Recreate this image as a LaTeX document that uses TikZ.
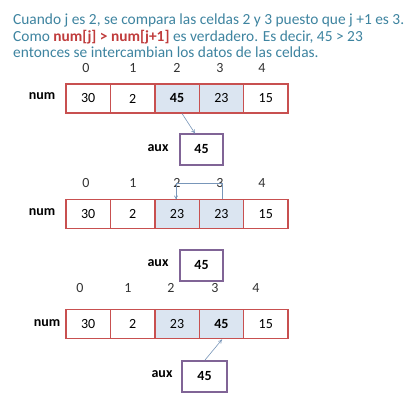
\documentclass[tikz,border=0pt]{standalone}
\usepackage{fontspec}
\setmainfont{Carlito}
\usetikzlibrary{arrows.meta}
\definecolor{titlec}{RGB}{62,132,160}
\definecolor{redc}{RGB}{192,60,60}
\definecolor{cellred}{RGB}{200,80,80}
\definecolor{auxc}{RGB}{128,100,150}
\definecolor{hl}{RGB}{219,229,241}
\definecolor{arrc}{RGB}{120,150,185}
\begin{document}
\begin{tikzpicture}[x=1pt,y=-1pt,
  cell/.style={draw=cellred,line width=1.4pt,minimum width=44.4pt,minimum height=29pt,inner sep=0pt,font=\fontsize{14}{16}\selectfont},
  hcell/.style={cell,fill=hl},
  auxbox/.style={draw=auxc,line width=1.4pt,minimum width=43pt,minimum height=31pt,inner sep=0pt,font=\fontsize{14}{16}\selectfont\bfseries},
  idx/.style={font=\fontsize{14}{16}\selectfont,text=black!80,inner sep=0pt},
  lbl/.style={font=\fontsize{14}{16}\selectfont\bfseries,inner sep=0pt},
  title/.style={anchor=base west,inner sep=0pt,text=titlec,font=\fontsize{15.4}{18}\selectfont},
  conn/.style={draw=arrc,line width=0.6pt,-{To[length=4pt,width=4pt]}}]
\useasboundingbox (0,0) rectangle (418,403);
\fill[white] (0,0) rectangle (418,403);
% title
\node[title] (t1) at (13,25) {Cuando j es 2, se compara las celdas 2 y 3 puesto que j +1 es 3.};
\node[title] (t2) at (13,42) {Como \textcolor{redc}{\bfseries num[j] > num[j+1]} es verdadero. Es decir, 45 > 23};
\node[title] (t3) at (13,58) {entonces se intercambian los datos de las celdas.};
% ---- array 1
\foreach \i/\x in {0/86,1/133,2/177,3/220,4/262} \node[idx] (ia\i) at (\x,68) {\i};
\node[lbl] (numa) at (42,96) {num};
\node[cell] (a0) at (88.2,98.5) {30};
\node[cell] (a1) at (132.6,98.5) {2};
\node[hcell] (a2) at (177,98.5) {\bfseries 45};
\node[hcell] (a3) at (221.4,98.5) {23};
\node[cell] (a4) at (265.8,98.5) {15};
\node[auxbox] (xa) at (201.5,149.5) {45};
\node[lbl] (auxa) at (158,148) {aux};
\coordinate (sa) at (182,113.5);
\coordinate (ea) at (195,133.5);
\draw[conn] (sa) -- (ea);
% ---- array 2
\foreach \i/\x in {0/86,1/133,2/177,3/220,4/262} \node[idx] (ib\i) at (\x,183) {\i};
\node[lbl] (numb) at (42,212) {num};
\node[cell] (b0) at (88.2,214) {30};
\node[cell] (b1) at (132.6,214) {2};
\node[hcell] (b2) at (177,214) {23};
\node[hcell] (b3) at (221.4,214) {23};
\node[cell] (b4) at (265.8,214) {15};
\node[auxbox] (xb) at (201.5,265.5) {45};
\node[lbl] (auxb) at (158,263) {aux};
\coordinate (sb) at (222,199.5);
\coordinate (cb3) at (222,183);
\coordinate (cb2) at (176,183);
\coordinate (eb) at (176,199.5);
\draw[conn] (sb) -- (cb3) -- (cb2) -- (eb);
% ---- array 3
\foreach \i/\x in {0/80,1/128,2/171,3/215,4/256} \node[idx] (ic\i) at (\x,288) {\i};
\node[lbl] (numc) at (47,323) {num};
\node[cell] (c0) at (88.2,324) {30};
\node[cell] (c1) at (132.6,324) {2};
\node[hcell] (c2) at (177,324) {23};
\node[hcell] (c3) at (221.4,324) {\bfseries 45};
\node[cell] (c4) at (265.8,324) {15};
\node[auxbox,minimum width=45pt] (xc) at (204.5,376.5) {45};
\node[lbl] (auxc) at (162,374) {aux};
\coordinate (sc) at (205,360);
\coordinate (ec) at (222,339.5);
\draw[conn] (sc) -- (ec);
\end{tikzpicture}
\end{document}
